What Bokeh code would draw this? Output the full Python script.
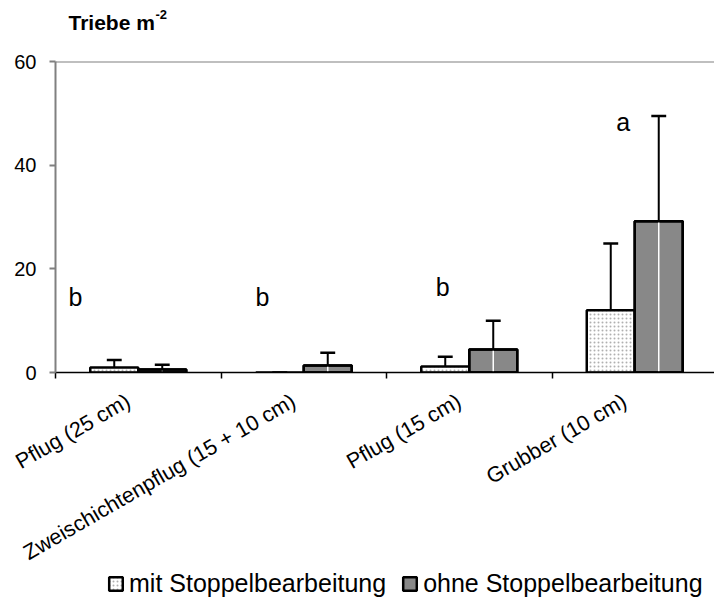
from bokeh.plotting import figure
from bokeh.layouts import column
from bokeh.models import (Range1d, FixedTicker, Span, Legend, LegendItem)
from bokeh.core.properties import value
from bokeh.embed import file_html
from bokeh.resources import INLINE

# ---- data ----
groups = ["Pflug (25 cm)", "Zweischichtenpflug (15 + 10 cm)", "Pflug (15 cm)", "Grubber (10 cm)"]
series = ["mit Stoppelbearbeitung", "ohne Stoppelbearbeitung"]
mit = [0.95, 0.0, 1.15, 12.0]
mit_top = [2.4, 0.0, 3.05, 24.9]
ohne = [0.6, 1.35, 4.45, 29.2]
ohne_top = [1.5, 3.8, 10.0, 49.5]
letters = ["b", "b", "b", "a"]
letter_x = [0.12, 1.25, 2.34, 3.43]
letter_y = [14.5, 14.5, 16.5, 48.3]
y_ticks = [0, 20, 40, 60]
title_main = "Triebe m"
title_sup = "-2"

FONT = "Liberation Sans"
LEFT = 55          # left border shared by all stacked figures (frames are aligned)
FRAME_W = 714 - LEFT
W = 0.29
centers = [i + 0.5 for i in range(len(groups))]
x_mit = [c - W / 2 for c in centers]
x_ohne = [c + W / 2 for c in centers]
label_pos = [round(c - 0.06, 3) for c in centers]

MIT_STYLE = dict(fill_color="white", hatch_pattern="dot", hatch_color="#b0b0b0",
                 hatch_scale=4, hatch_weight=1, line_color="black", line_width=2.5)
OHNE_STYLE = dict(fill_color="#888888", hatch_pattern="checker", hatch_color="#777777",
                  hatch_scale=3, line_color="black", line_width=2.5)

# ---- title strip (pixel-like ranges relative to the aligned frame) ----
tf = figure(width=714, height=40, output_backend="svg", toolbar_location=None,
            x_axis_location=None, y_axis_location=None, min_border=0,
            min_border_left=LEFT, x_range=Range1d(0, FRAME_W), y_range=Range1d(0, 40))
tf.outline_line_color = None
tf.grid.visible = False
tf.text(x=[13], y=[18], text=[title_main], text_font=value(FONT), text_font_size="21px",
        text_font_style="bold", text_color="black", text_baseline="alphabetic")
tf.text(x=[100], y=[26], text=[title_sup], text_font=value(FONT), text_font_size="13px",
        text_font_style="bold", text_color="black", text_baseline="alphabetic")

# ---- main chart ----
p = figure(width=714, height=538, output_backend="svg", toolbar_location=None,
           x_range=Range1d(0, FRAME_W / 165.5), y_range=Range1d(0, 60),
           min_border_left=LEFT, min_border_right=0, min_border_top=21,
           min_border_bottom=205)
p.outline_line_color = None
p.grid.visible = False
p.background_fill_color = "white"

# top line at 60
p.add_layout(Span(location=60, dimension="width", line_color="#808080", line_width=2))

# bars
p.vbar(x=x_mit, top=mit, bottom=0, width=W, **MIT_STYLE)
p.vbar(x=x_ohne, top=ohne, bottom=0, width=W, **OHNE_STYLE)
# white center line artefact in 'ohne' bars
p.segment(x0=x_ohne, y0=[0] * 4, x1=x_ohne, y1=ohne, line_color="white", line_width=1.5)
p.vbar(x=x_ohne, top=ohne, bottom=0, width=W, fill_color=None,
       line_color="black", line_width=2.5)

# error bars (upper only)
CAP = 0.09
p.segment(x0=x_mit, y0=mit, x1=x_mit, y1=mit_top, line_color="black", line_width=2)
p.segment(x0=[x - CAP / 2 for x in x_mit], y0=mit_top, x1=[x + CAP / 2 for x in x_mit],
          y1=mit_top, line_color="black", line_width=2.5)
p.segment(x0=x_ohne, y0=ohne, x1=x_ohne, y1=ohne_top, line_color="black", line_width=2)
p.segment(x0=[x - CAP / 2 for x in x_ohne], y0=ohne_top, x1=[x + CAP / 2 for x in x_ohne],
          y1=ohne_top, line_color="black", line_width=2.5)

# significance letters
p.text(x=letter_x, y=letter_y, text=letters, text_font=value(FONT), text_font_size="25px",
       text_align="center", text_baseline="middle", text_color="black")

# y axis
ya = p.yaxis[0]
ya.ticker = FixedTicker(ticks=y_ticks)
ya.axis_line_color = "#808080"
ya.axis_line_width = 2
ya.major_tick_line_color = "#808080"
ya.major_tick_line_width = 2
ya.major_tick_in = 0
ya.major_tick_out = 6
ya.minor_tick_line_color = None
ya.major_label_text_font = FONT
ya.major_label_text_font_size = "20px"
ya.major_label_text_color = "black"
ya.major_label_standoff = 13

# x axis
xa = p.xaxis[0]
xa.ticker = FixedTicker(ticks=label_pos, minor_ticks=[0, 1, 2, 3, 4])
xa.major_label_overrides = {c: g for c, g in zip(label_pos, groups)}
xa.major_label_orientation = 0.5236
xa.axis_line_color = "black"
xa.axis_line_width = 1.5
xa.major_tick_line_color = None
xa.minor_tick_line_color = "black"
xa.minor_tick_line_width = 1.5
xa.minor_tick_in = 0
xa.minor_tick_out = 6
xa.major_label_text_font = FONT
xa.major_label_text_font_size = "21.5px"
xa.major_label_text_color = "black"
xa.major_label_standoff = 21

# ---- legend strip ----
lf = figure(width=714, height=30, output_backend="svg", toolbar_location=None,
            x_axis_location=None, y_axis_location=None, min_border=0,
            min_border_left=LEFT, x_range=Range1d(0, 1), y_range=Range1d(0, 1),
            margin=(-10, 0, 0, 0))
lf.outline_line_color = None
lf.grid.visible = False
lf.background_fill_alpha = 0
lf.border_fill_alpha = 0
lr_mit = lf.vbar(x=[0.5], top=[1], width=0.1, **MIT_STYLE)
lr_ohne = lf.vbar(x=[0.5], top=[1], width=0.1, **OHNE_STYLE)
lr_mit.visible = False
lr_ohne.visible = False
legend = Legend(items=[LegendItem(label=series[0], renderers=[lr_mit]),
                       LegendItem(label=series[1], renderers=[lr_ohne])],
                orientation="horizontal", location=(107 - LEFT, 0),
                label_text_font=FONT, label_text_font_size="25px", label_text_color="black",
                glyph_width=17, glyph_height=17, label_standoff=5, spacing=15,
                border_line_color=None, background_fill_alpha=0, padding=0, margin=0,
                inactive_fill_alpha=0)
lf.add_layout(legend, "center")

layout = column(tf, p, lf, spacing=0)
open("out.html", "w").write(file_html(layout, INLINE))
